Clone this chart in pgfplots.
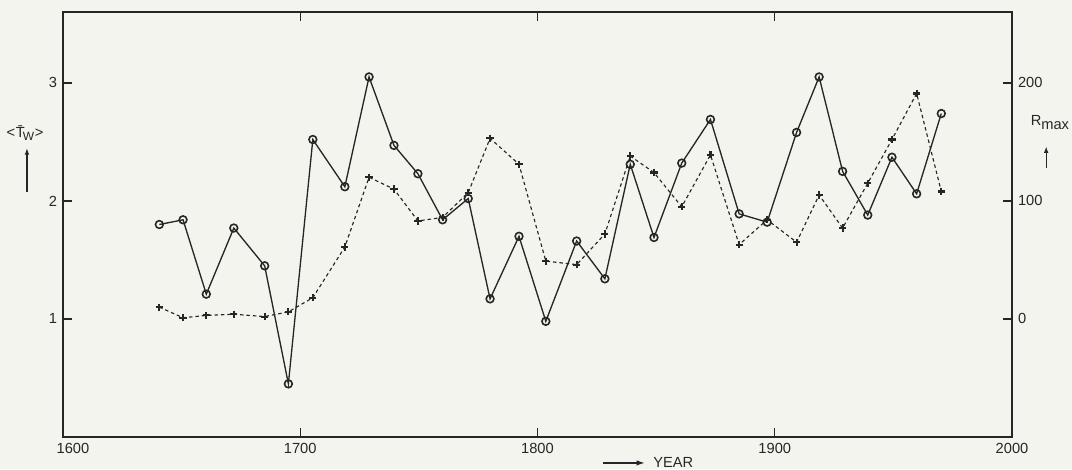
\documentclass[border=0pt]{standalone}
\usepackage{fontspec}
\setmainfont{Liberation Sans}
\usepackage{pgfplots}
\usepackage{pgfplotstable}
\pgfplotsset{compat=1.18}
\usetikzlibrary{arrows.meta}
\definecolor{paper}{RGB}{244,244,238}
\definecolor{ink}{RGB}{38,38,38}

\pgfplotstableread{
year T R
1640.6 1.80 10
1650.6 1.84 1
1660.4 1.21 3
1672.0 1.77 4
1685.0 1.45 2
1695.0 0.45 6
1705.3 2.52 18
1718.8 2.12 61
1729.0 3.05 120
1739.5 2.47 110
1749.6 2.23 83
1760.0 1.84 86
1770.8 2.02 107
1780.0 1.17 153
1792.2 1.70 131
1803.5 0.98 49
1816.5 1.66 46
1828.4 1.34 72
1839.1 2.31 138
1849.1 1.69 124
1860.8 2.32 95
1872.9 2.69 139
1885.0 1.89 63
1896.8 1.82 84
1909.2 2.58 65
1918.7 3.05 105
1928.6 2.25 77
1939.2 1.88 115
1949.4 2.37 152
1959.8 2.06 191
1970.2 2.74 108
}\datatable

\pgfplotsset{
  common/.style={
    at={(47.25pt,24pt)}, anchor=south west,
    scale only axis, width=711.75pt, height=318.75pt,
    xmin=1600, xmax=2000,
    tick align=inside,
    major tick length=6.5pt,
    axis line style={ink, line width=1pt},
    every tick/.style={ink, line width=1pt},
    tick label style={font=\fontsize{11}{13}\selectfont, text=ink},
    /pgf/number format/assume math mode=true,
    /pgf/number format/1000 sep={},
    clip=false,
  }
}

\begin{document}
\begin{tikzpicture}
\fill[paper] (0,0) rectangle (804pt,351.75pt);
\useasboundingbox (0,0) rectangle (804pt,351.75pt);

\begin{axis}[common,
  ymin=0, ymax=3.6,
  xtick={1600,1700,1800,1900,2000},
  xticklabels={\hspace{15pt}1600,1700,1800,1900,2000\hspace{7pt}},
  xtick pos=both, xticklabel pos=bottom,
  ytick={1,2,3}, ytick pos=left,
  xticklabel style={yshift=-1pt},
  yticklabel style={xshift=-1pt},
]
\addplot[ink, line width=1pt, mark=o, mark size=2.9pt,
  mark options={solid, fill=paper, line width=1.2pt}]
  table[x=year, y=T] {\datatable};

\node[ink, font=\fontsize{11}{13}\selectfont] at (axis description cs:-0.040,0.715)
  {<\kern0.5pt\=T\kern-1.5pt\raisebox{-0.35ex}{\fontsize{9}{10}\selectfont W}\kern0.5pt>};
\draw[ink, line width=0.9pt, -{Latex[length=5pt,width=3.5pt]}]
  (axis description cs:-0.038,0.576) -- (axis description cs:-0.038,0.680);

\node[ink, font=\fontsize{11}{13}\selectfont, anchor=west, inner sep=0pt] at (axis description cs:1.0195,0.740)
  {R\raisebox{-0.6ex}{max}};
\draw[ink, line width=0.9pt, -{Latex[length=5pt,width=3.5pt]}]
  (axis description cs:1.036,0.633) -- (axis description cs:1.036,0.684);

\draw[ink, line width=0.9pt, -{Latex[length=6pt,width=4pt]}]
  (axis description cs:0.569,-0.061) -- (axis description cs:0.613,-0.061);
\node[ink, font=\fontsize{11}{13}\selectfont, anchor=west, inner sep=0pt] at (axis description cs:0.6217,-0.061) {YEAR};
\end{axis}

\begin{axis}[common,
  ymin=-100, ymax=260,
  xtick=\empty,
  ytick={0,100,200}, ytick pos=right, yticklabel pos=right,
  axis line style={draw=none},
  yticklabel style={xshift=1pt},
]
\addplot[ink, line width=0.85pt, dash pattern=on 2.6pt off 2.2pt, mark=+, mark size=2.7pt,
  mark options={solid, line width=1.6pt}]
  table[x=year, y=R] {\datatable};
\end{axis}
\end{tikzpicture}
\end{document}
